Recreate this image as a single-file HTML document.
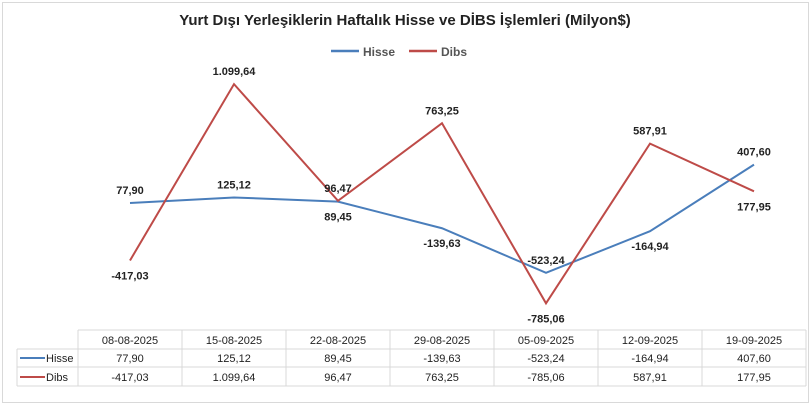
<!DOCTYPE html>
<html><head><meta charset="utf-8"><style>
html,body{margin:0;padding:0;background:#fff;}
svg{display:block;font-family:"Liberation Sans",Arial,sans-serif;}
</style></head><body>
<svg id="c" width="811" height="407" viewBox="0 0 811 407" xmlns="http://www.w3.org/2000/svg">
<rect x="2.5" y="2.5" width="806" height="400" fill="#fff" stroke="#d9d9d9"/>
<text x="405" y="25" text-anchor="middle" font-size="15" font-weight="bold" fill="#222">Yurt Dışı Yerleşiklerin Haftalık Hisse ve DİBS İşlemleri (Milyon$)</text>
<g>
<line x1="331" y1="51" x2="359" y2="51" stroke="#4a7ebb" stroke-width="2.5"/>
<text x="363" y="56" font-size="12" font-weight="bold" fill="#555">Hisse</text>
<line x1="409" y1="51" x2="437" y2="51" stroke="#be4b48" stroke-width="2.5"/>
<text x="441" y="56" font-size="12" font-weight="bold" fill="#555">Dibs</text>
</g>
<g id="plot"></g>
<g id="table"></g>
</svg>
<script>
const categories=["08-08-2025","15-08-2025","22-08-2025","29-08-2025","05-09-2025","12-09-2025","19-09-2025"];
const hisse=[77.90,125.12,89.45,-139.63,-523.24,-164.94,407.60];
const dibs=[-417.03,1099.64,96.47,763.25,-785.06,587.91,177.95];
const hisseLabels=["77,90","125,12","89,45","-139,63","-523,24","-164,94","407,60"];
const dibsLabels=["-417,03","1.099,64","96,47","763,25","-785,06","587,91","177,95"];
const NS="http://www.w3.org/2000/svg";
const x0=78,cw=104;
function xs(i){return x0+cw*(i+0.5);}
function ys(v){return 212-v/8.6;}
function mk(tag,attrs,parent){const e=document.createElementNS(NS,tag);for(const k in attrs)e.setAttribute(k,attrs[k]);parent.appendChild(e);return e;}
const plot=document.getElementById('plot');
function series(vals,labels,color,name,above){
  const pl=mk('polyline',{points:vals.map((v,i)=>xs(i)+','+ys(v)).join(' '),fill:'none',stroke:color,'stroke-width':2},plot);
  
  
  vals.forEach((v,i)=>{
    const up=above[i];
    const t=mk('text',{x:xs(i),y:ys(v)+(up?-9:19),'text-anchor':'middle','font-size':11,'font-weight':'bold',fill:'#222'},plot);
    t.textContent=labels[i];
    
    
  });
}
series(hisse,hisseLabels,'#4a7ebb','hisse',[true,true,false,false,true,false,true]);
series(dibs,dibsLabels,'#be4b48','dibs',[false,true,true,true,false,true,false]);
const tb=document.getElementById('table');
const ty=[330,349,367,386];
const g='#d9d9d9';
mk('line',{x1:x0,y1:ty[0],x2:806,y2:ty[0],stroke:g},tb);
for(let r=1;r<4;r++)mk('line',{x1:17,y1:ty[r],x2:806,y2:ty[r],stroke:g},tb);
mk('line',{x1:17,y1:ty[1],x2:17,y2:ty[3],stroke:g},tb);
for(let i=0;i<=7;i++)mk('line',{x1:x0+cw*i,y1:ty[0],x2:x0+cw*i,y2:ty[3],stroke:g},tb);
categories.forEach((c,i)=>{
  const t=mk('text',{x:xs(i),y:344,'text-anchor':'middle','font-size':11,fill:'#222'},tb);
  t.textContent=c;
  
  
  const a=mk('text',{x:xs(i),y:362,'text-anchor':'middle','font-size':11,fill:'#222'},tb);
  a.textContent=hisseLabels[i];
  
  
  const b=mk('text',{x:xs(i),y:381,'text-anchor':'middle','font-size':11,fill:'#222'},tb);
  b.textContent=dibsLabels[i];
  
  
});
[['Hisse','#4a7ebb',358],['Dibs','#be4b48',377]].forEach(([n,c,y])=>{
  mk('line',{x1:20,y1:y,x2:45,y2:y,stroke:c,'stroke-width':2},tb);
  const t=mk('text',{x:46,y:y+4,'font-size':11,fill:'#222'},tb);
  t.textContent=n;
  
  
});
</script>
</body></html>
